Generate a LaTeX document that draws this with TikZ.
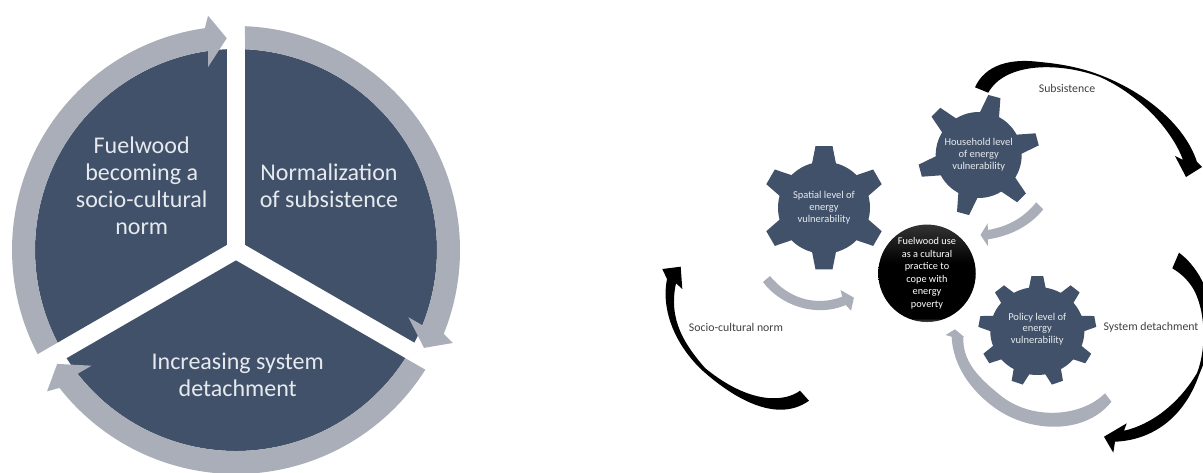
\documentclass[tikz,border=0pt]{standalone}
\usepackage{fontspec}
\setmainfont{Carlito}
\definecolor{slateblue}{HTML}{415169}
\definecolor{ringgrey}{HTML}{A9AEB8}
\definecolor{labelgrey}{HTML}{3F3F3F}
\definecolor{palefont}{HTML}{E6EAEF}
\pgfdeclareverticalshading{orb}{100bp}{color(0bp)=(black!65); color(25bp)=(black!65); color(27bp)=(black); color(55bp)=(black); color(75bp)=(black!80); color(100bp)=(black!80)}
\tikzset{
  sector/.style={fill=slateblue},
  ring/.style={fill=ringgrey},
  cogfill/.style={fill=slateblue},
  blackarrow/.style={fill=black},
  bigtext/.style={text=palefont,align=center,font=\fontsize{24}{27}\selectfont,inner sep=0pt},
  cogtext/.style={text=palefont,align=center,font=\fontsize{10.5}{11.7}\selectfont,inner sep=0pt},
  hubtext/.style={text=white,align=center,font=\fontsize{10.3}{12.6}\selectfont,inner sep=0pt},
  sidetext/.style={text=labelgrey,font=\fontsize{11.8}{13}\selectfont,inner sep=0pt}
}
% cx, cy, xscale, body r, tip r, teeth, rotation, tip width, base width
\newcommand{\cogwheel}[9]{%
  \begin{scope}[shift={(#1,#2)},y=1pt,xscale=#3,rotate=#7]
    \fill[cogfill] (0,0) circle[radius=#4];
    \foreach \k in {1,...,#6}{
      \fill[cogfill,rotate=\k*360/#6] ({#4-2},{-#9/2}) -- (#5,{-#8/2}) -- (#5,{#8/2}) -- ({#4-2},{#9/2}) -- cycle;
    }
  \end{scope}}
\begin{document}
\begin{tikzpicture}[x=1pt,y=-1pt]
\useasboundingbox (0,0) rectangle (1203,472);
\clip (0,0) rectangle (1203,472);
% left panel
\begin{scope}[shift={(236,250)},y=1pt]
  \foreach \a in {0,-120,-240}{
    \fill[sector,rotate=\a] (9,5.2) -- (87.43:201) arc[start angle=87.43,end angle=-27.43,radius=201] -- cycle;
  }
  \foreach \a in {0,-120,-240}{
    \fill[ring,rotate=\a] (87.7:224) arc[start angle=87.7,end angle=-22,radius=224] -- (-23.2:236) -- (-27.5:212) -- (-21.3:185) -- (-22:201) arc[start angle=-22,end angle=87.43,radius=201] -- cycle;
  }
\end{scope}
\node[bigtext] (fuelnorm) at (141.7,186) {Fuelwood\\becoming a\\socio-cultural\\norm};
\node[bigtext] (normal) at (329,185.5) {Normalization\\of subsistence};
\node[bigtext] (detach) at (237.7,375) {Increasing system\\detachment};
% right panel: cogs
\cogwheel{824}{207.7}{1}{46}{61.7}{6}{30}{17}{24}
\cogwheel{978.7}{155}{1}{43}{60.5}{6}{15}{12.5}{20}
\cogwheel{1037.3}{331}{1.07}{44}{55}{9}{10}{11}{16}
\node[cogtext] (spatial) at (824,207.7) {Spatial level of\\energy\\vulnerability};
\node[cogtext] (house) at (978.7,154.5) {Household level\\of energy\\vulnerability};
\node[cogtext] (policy) at (1037.3,329) {Policy level of\\energy\\vulnerability};
\node[circle,shading=orb,minimum size=97.5pt,inner sep=0pt,hubtext] (hub) at (927,273.3) {Fuelwood use\\as a cultural\\practice to\\cope with\\energy\\poverty};
% grey curved arrows
\fill[ring] (763,282) .. controls (780,305) and (815,318) .. (845.8,305) -- (851,310.7) -- (853.9,297.7) -- (840.5,290) -- (842.2,296.7) .. controls (815,307) and (788,298) .. (770,276) -- cycle;
\fill[ring] (1036.2,202.3) .. controls (1022,220) and (1005,227) .. (987.9,230) -- (987.6,223.3) -- (980.5,235) -- (987.9,246) -- (988,239.3) .. controls (1010,236) and (1030,226) .. (1043.3,209.3) -- cycle;
\fill[ring] (1105,393.3) .. controls (1080,418) and (1030,420) .. (1000,395) .. controls (975,375) and (963,360) .. (963.2,337) -- (964.6,337.3) -- (955,329.3) -- (945.6,335) -- (951.6,336.7) .. controls (953,365) and (970,390) .. (995,408) .. controls (1030,433) and (1085,435) .. (1111.4,401.7) -- cycle;
% black tapered arrows
\fill[blackarrow] (975,87.3) .. controls (985,65) and (1010,58) .. (1040,62) .. controls (1062,64) and (1082,68) .. (1100,75) .. controls (1145,92) and (1185,125) .. (1197,162) -- (1202,167) -- (1186,177) -- (1175,156) -- (1183,160) .. controls (1172,130) and (1140,95) .. (1100,77) .. controls (1060,62) and (1005,62) .. (988.3,92.7) -- cycle;
\fill[blackarrow] (1179,252.7) .. controls (1200,268) and (1215,300) .. (1212,330) .. controls (1210,350) and (1205,360) .. (1199,375) .. controls (1185,415) and (1155,440) .. (1115,441.7) -- (1113.3,452.7) -- (1104,436.7) -- (1126.7,423.3) -- (1124,430.7) .. controls (1150,425) and (1178,405) .. (1197,373) .. controls (1206,350) and (1206,315) .. (1195,292) .. controls (1190,282) and (1182,274) .. (1172.3,268.3) -- cycle;
\fill[blackarrow] (800,390.7) .. controls (785,402) and (750,405) .. (705,368) .. controls (685,345) and (668,320) .. (676,283.3) -- (682.3,289) -- (680.7,266.7) -- (662.3,269) -- (667,279) .. controls (660,315) and (680,350) .. (703,371) .. controls (730,395) and (775,425) .. (809,400.7) -- cycle;
% side labels
\node[sidetext] (subs) at (1067,88.7) {Subsistence};
\node[sidetext] (sysd) at (1151,327.7) {System detachment};
\node[sidetext] (socio) at (736,327.7) {Socio-cultural norm};
\end{tikzpicture}
\end{document}
